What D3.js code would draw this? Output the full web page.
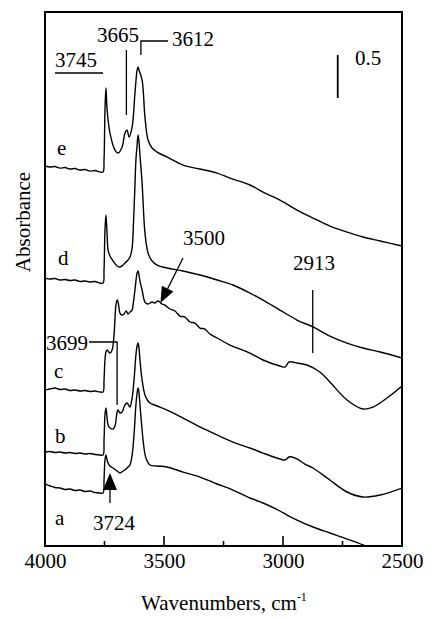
<!DOCTYPE html>
<html>
<head>
<meta charset="utf-8">
<script src="https://cdn.jsdelivr.net/npm/d3@7"></script>
<style>
  html, body { margin: 0; padding: 0; background: #fff; }
  svg { display: block; }
  text { font-family: "Liberation Serif", "Times New Roman", serif; fill: #000; }
</style>
</head>
<body>
<svg id="chart" width="431" height="620"></svg>
<script>
// ---- Data: IR spectra (wavenumber, cm-1 / stacked absorbance) ----
const wnE = [4000,3979,3958,3937,3916,3895,3874,3853,3832,3811,3790,3769,3756,
  3752,3748,3744,3739,3727,3706,3693,3676,3664,3655,3647,3634,3622,3613,3609,3605,3592,3580,3567,3550,3529,3487,
  3420,3349,3277,3223,3139,3084,3013,2941,2874,2803,2731,2664,2592,2500];
const absE = [4.419,4.407,4.413,4.395,4.401,4.384,4.390,4.372,4.378,4.360,4.366,4.349,4.349,
  4.488,5.070,5.326,5.070,4.802,4.605,4.570,4.640,4.802,4.837,4.756,4.872,5.267,5.535,5.570,5.535,5.419,4.988,4.721,4.628,4.581,4.523,
  4.430,4.384,4.337,4.279,4.198,4.116,4.023,3.907,3.814,3.721,3.651,3.593,3.547,3.488];

const wnD = [4000,3979,3958,3937,3916,3895,3874,3853,3832,3811,3790,3769,3756,
  3752,3748,3744,3739,3735,3727,3714,3697,3685,3672,3664,3651,3643,3634,3630,3622,3618,3613,3609,3605,3601,3592,3580,3567,3550,3529,3487,
  3420,3349,3277,3210,3139,3084,3013,2941,2874,2803,2731,2664,2592,2500];
const absD = [3.116,3.105,3.110,3.093,3.099,3.087,3.093,3.076,3.081,3.070,3.076,3.058,3.058,
  3.209,3.674,3.849,3.616,3.442,3.372,3.314,3.256,3.244,3.267,3.291,3.326,3.360,3.465,3.640,4.198,4.488,4.663,4.779,4.698,4.547,4.221,3.640,3.407,3.314,3.267,3.233,
  3.198,3.151,3.093,3.035,2.942,2.860,2.744,2.628,2.547,2.442,2.360,2.302,2.256,2.186];

const wnC = [4000,3979,3958,3937,3916,3895,3874,3853,3832,3811,3790,3769,3756,
  3752,3748,3744,3739,3735,3727,3718,3710,3702,3697,3693,3689,3685,3676,3668,3659,3651,3643,3634,3630,3622,3613,3609,3605,3601,3592,3580,3567,3550,3538,3525,3508,3496,
  3475,3454,3433,3412,3391,3370,3349,3328,3307,3277,3223,3139,3084,3013,2992,2975,2962,2941,2899,2845,2803,2731,2664,2622,2563,2500];
const absC = [1.814,1.826,1.837,1.820,1.826,1.808,1.814,1.802,1.808,1.797,1.802,1.791,1.791,
  1.930,2.163,2.256,2.279,2.267,2.244,2.279,2.453,2.802,2.860,2.837,2.767,2.709,2.686,2.698,2.733,2.698,2.721,2.744,2.802,2.977,3.174,3.198,3.151,3.081,2.977,2.837,2.814,2.837,2.826,2.849,2.814,2.802,
  2.756,2.733,2.674,2.663,2.605,2.593,2.535,2.523,2.465,2.419,2.337,2.244,2.163,2.093,2.081,2.140,2.140,2.128,2.105,2.023,1.907,1.698,1.593,1.616,1.721,1.860];

const wnB = [4000,3979,3958,3937,3916,3895,3874,3853,3832,3811,3790,3769,3756,
  3752,3748,3744,3739,3735,3727,3714,3706,3697,3693,3685,3676,3668,3664,3655,3647,3643,3634,3626,3618,3613,3609,3605,3601,3592,3580,3567,3559,3529,3487,
  3420,3349,3277,3210,3139,3084,3013,2992,2975,2962,2941,2908,2874,2803,2731,2664,2592,2500];
const absB = [1.093,1.099,1.087,1.093,1.081,1.087,1.076,1.081,1.070,1.076,1.064,1.058,1.058,
  1.233,1.523,1.605,1.488,1.407,1.372,1.360,1.395,1.558,1.581,1.547,1.558,1.616,1.640,1.663,1.628,1.616,1.721,1.930,2.221,2.326,2.360,2.302,2.163,1.930,1.756,1.686,1.663,1.628,1.581,
  1.488,1.384,1.291,1.209,1.140,1.081,1.012,1.000,1.035,1.035,1.012,0.953,0.907,0.767,0.628,0.570,0.593,0.674];

const wnA = [4000,3979,3958,3937,3916,3895,3874,3853,3832,3811,3790,3769,3756,
  3752,3748,3744,3739,3735,3727,3714,3697,3685,3672,3664,3651,3643,3634,3626,3618,3613,3609,3605,3601,3592,3588,3576,3559,3529,3487,
  3420,3349,3277,3210,3139,3084,3013,2983,2941,2874,2803,2731,2664,2592];
const absA = [0.721,0.698,0.680,0.674,0.657,0.663,0.645,0.651,0.634,0.640,0.622,0.616,0.616,
  0.767,1.000,1.058,1.000,0.965,0.930,0.907,0.872,0.849,0.872,0.884,0.919,0.942,1.058,1.291,1.640,1.779,1.837,1.779,1.640,1.349,1.233,1.023,0.942,0.930,0.919,
  0.860,0.802,0.721,0.651,0.558,0.500,0.407,0.360,0.302,0.221,0.151,0.081,0.012,-0.081];

const spectra = [
  { name: "e", wn: wnE, abs: absE },
  { name: "d", wn: wnD, abs: absD },
  { name: "c", wn: wnC, abs: absC },
  { name: "b", wn: wnB, abs: absB },
  { name: "a", wn: wnA, abs: absA }
];

const xMajorTicks = [4000, 3500, 3000, 2500];
const xMinorTicks = [3750, 3250, 2750];
const scaleBarValue = 0.5;

// ---- Layout ----
const svg = d3.select("#chart");
const plot = { left: 45, right: 402, top: 12, bottom: 546 };

const x = d3.scaleLinear().domain([4000, 2500]).range([plot.left, plot.right]);
const y = d3.scaleLinear().domain([0, 6.21]).range([plot.bottom, plot.top]);

svg.append("defs").append("clipPath").attr("id", "plotClip")
  .append("rect")
  .attr("x", plot.left).attr("y", plot.top)
  .attr("width", plot.right - plot.left).attr("height", plot.bottom - plot.top);

const line = d3.line()
  .x(d => x(d[0]))
  .y(d => y(d[1]))
  .curve(d3.curveCatmullRom.alpha(0.5));

const traces = svg.append("g").attr("clip-path", "url(#plotClip)");
spectra.forEach(s => {
  const pts = s.wn.map((w, i) => [w, s.abs[i]]);
  traces.append("path")
    .datum(pts)
    .attr("d", line)
    .attr("fill", "none")
    .attr("stroke", "#000")
    .attr("stroke-width", 1.4)
    .attr("stroke-linejoin", "round");
});

// Frame
svg.append("rect")
  .attr("x", plot.left).attr("y", plot.top)
  .attr("width", plot.right - plot.left).attr("height", plot.bottom - plot.top)
  .attr("fill", "none").attr("stroke", "#000").attr("stroke-width", 2);

// Bottom axis ticks (inward) and labels
const xAxis = d3.axisBottom(x).tickValues(xMajorTicks).tickSize(0).tickPadding(0).tickFormat(d3.format("d"));
const axisG = svg.append("g").attr("transform", `translate(0,${plot.bottom})`).call(xAxis);
axisG.select(".domain").remove();
axisG.selectAll("text")
  .attr("y", 22).attr("dy", 0)
  .style("font-family", '"Liberation Serif","Times New Roman",serif')
  .style("font-size", "21px");

svg.append("g").selectAll("line")
  .data(xMajorTicks.slice(1, -1))
  .join("line")
  .attr("x1", d => x(d)).attr("x2", d => x(d))
  .attr("y1", plot.bottom).attr("y2", plot.bottom - 10)
  .attr("stroke", "#000").attr("stroke-width", 1.6);

svg.append("g").selectAll("line")
  .data(xMinorTicks)
  .join("line")
  .attr("x1", d => x(d)).attr("x2", d => x(d))
  .attr("y1", plot.bottom).attr("y2", plot.bottom - 5)
  .attr("stroke", "#000").attr("stroke-width", 1.6);

// Axis titles
const xTitle = svg.append("text")
  .attr("x", 224).attr("y", 610)
  .attr("text-anchor", "middle")
  .style("font-size", "21px");
xTitle.append("tspan").text("Wavenumbers, cm");
xTitle.append("tspan").text("-1").attr("dy", -9).style("font-size", "12px");

svg.append("text")
  .attr("transform", "translate(30,222) rotate(-90)")
  .attr("text-anchor", "middle")
  .style("font-size", "21px")
  .text("Absorbance");

// ---- Annotations ----
const ann = svg.append("g");
const stroke = sel => sel.attr("stroke", "#000").attr("stroke-width", 1.3).attr("fill", "none");

// Trace letters
const letterPos = [
  { t: "e", x: 57, y: 155 },
  { t: "d", x: 58, y: 265 },
  { t: "c", x: 54, y: 378 },
  { t: "b", x: 55, y: 443 },
  { t: "a", x: 55, y: 525 }
];
ann.selectAll("text.trace")
  .data(letterPos)
  .join("text")
  .attr("class", "trace")
  .attr("x", d => d.x).attr("y", d => d.y)
  .style("font-size", "21px")
  .text(d => d.t);

// 3745 (underlined label)
ann.append("text").attr("x", 55).attr("y", 67).style("font-size", "21px").text("3745");
ann.append("line").attr("x1", 55).attr("x2", 103).attr("y1", 73).attr("y2", 73).call(stroke);

// 3665
ann.append("text").attr("x", 97).attr("y", 42).style("font-size", "21px").text("3665");
ann.append("line").attr("x1", x(3658)).attr("x2", x(3658)).attr("y1", 50).attr("y2", 115).call(stroke);

// 3612
ann.append("text").attr("x", 172).attr("y", 46).style("font-size", "21px").text("3612");
ann.append("path")
  .attr("d", `M168,41 H${x(3597)} V55`)
  .call(stroke);

// Absorbance scale bar
const barX = x(2770);
ann.append("line")
  .attr("x1", barX).attr("x2", barX)
  .attr("y1", y(5.21)).attr("y2", y(5.21 + scaleBarValue))
  .attr("stroke", "#000").attr("stroke-width", 1.8);
ann.append("text").attr("x", 355).attr("y", 65).style("font-size", "21px").text(String(scaleBarValue));

// 3500 arrow
ann.append("text").attr("x", 183).attr("y", 245).style("font-size", "21px").text("3500");
{
  const tail = [183, 258], tip = [x(3515), 303];
  const dx = tip[0] - tail[0], dy = tip[1] - tail[1];
  const L = Math.hypot(dx, dy), ux = dx / L, uy = dy / L;
  const hl = 16, hw = 6.5;
  const bx = tip[0] - ux * hl, by = tip[1] - uy * hl;
  ann.append("line").attr("x1", tail[0]).attr("y1", tail[1]).attr("x2", bx).attr("y2", by).call(stroke);
  ann.append("path")
    .attr("d", `M${tip[0]},${tip[1]} L${bx - uy * hw},${by + ux * hw} L${bx + uy * hw},${by - ux * hw} Z`)
    .attr("fill", "#000");
}

// 2913
ann.append("text").attr("x", 293).attr("y", 270).style("font-size", "21px").text("2913");
ann.append("line").attr("x1", x(2875)).attr("x2", x(2875)).attr("y1", 290).attr("y2", 353).call(stroke);

// 3699
ann.append("text").attr("x", 88).attr("y", 350).attr("text-anchor", "end").style("font-size", "21px").text("3699");
ann.append("path").attr("d", `M89,342 H${x(3697)} V405`).call(stroke);

// 3724 arrow
ann.append("text").attr("x", 114).attr("y", 530).attr("text-anchor", "middle").style("font-size", "21px").text("3724");
{
  const tx = x(3727);
  ann.append("path").attr("d", `M${tx},473 L${tx - 7},490 L${tx + 7},490 Z`).attr("fill", "#000");
  ann.append("line").attr("x1", tx).attr("x2", tx).attr("y1", 489).attr("y2", 503).call(stroke);
}
</script>
</body>
</html>
